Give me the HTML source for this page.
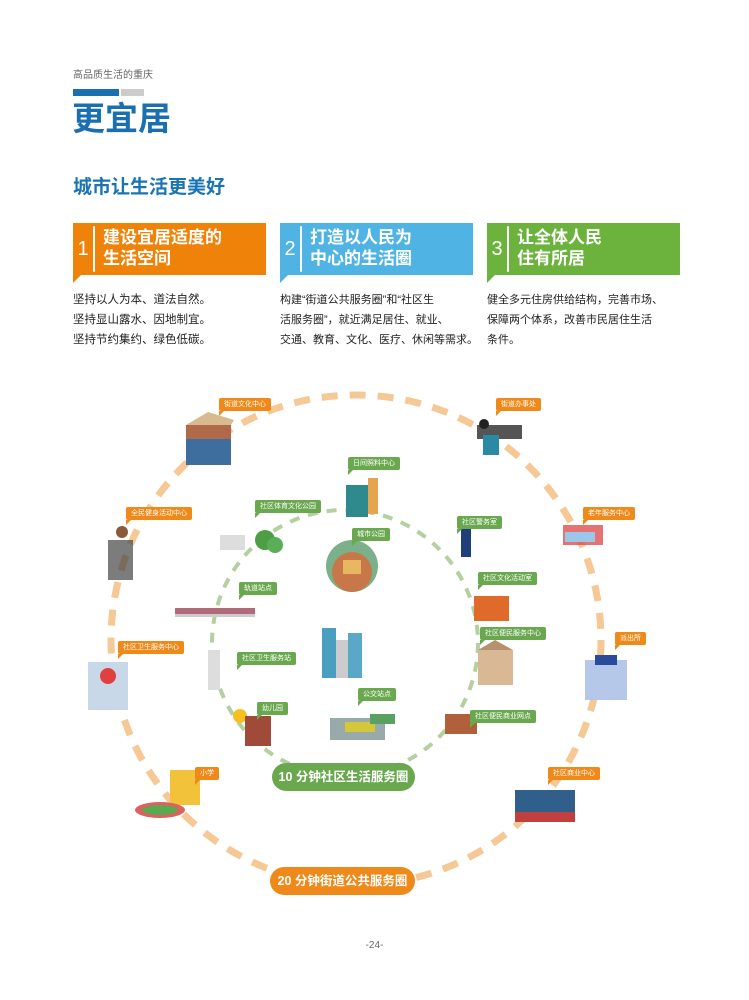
<!DOCTYPE html>
<html><head><meta charset="utf-8"><style>
body{margin:0;width:749px;height:1000px;background:#fff;position:relative;overflow:hidden;font-family:"Liberation Sans","Noto Sans CJK SC",sans-serif}
.a{position:absolute}
.card{position:absolute;top:223px;height:52px;color:#fff}
.card .n{position:absolute;left:0;top:0;width:20px;height:52px;font-size:20px;line-height:52px;text-align:center}
.card .d{position:absolute;left:20px;top:3px;width:2px;height:46px;background:#fff;border-radius:1px}
.card .t{position:absolute;left:30px;top:4px;font-size:17px;line-height:21px;font-weight:bold}
.card .tail{position:absolute;left:0;top:52px;width:0;height:0;border-top:8px solid;border-right:8px solid transparent}
.body{position:absolute;top:290px;font-size:11.5px;line-height:20px;color:#222;white-space:nowrap}
.lo,.lg{position:absolute;color:#fff;font-size:7px;line-height:13px;height:13px;padding:0 5px;border-radius:2px;white-space:nowrap}
.lo{background:#ef8a1a}.lg{background:#6aa84f}
.lo:after,.lg:after{content:"";position:absolute;left:0;top:13px;border-top:5px solid;border-right:5px solid transparent}
.lo:after{border-top-color:#ef8a1a}.lg:after{border-top-color:#6aa84f}
</style></head><body>
<div class="a" style="left:73px;top:66px;font-size:10px;color:#666">高品质生活的重庆</div>
<div class="a" style="left:73px;top:89px;width:46px;height:7px;background:#1a6fb0"></div>
<div class="a" style="left:121px;top:89px;width:23px;height:7px;background:#ccc"></div>
<div class="a" style="left:72px;top:100px;font-size:33px;font-weight:bold;color:#1a6fb0;line-height:38px">更宜居</div>
<div class="a" style="left:73px;top:176px;font-size:19px;font-weight:bold;color:#1a74b4;line-height:24px">城市让生活更美好</div>

<div class="card" style="left:73px;width:193px;background:#ef8208"><div class="n">1</div><div class="d"></div><div class="t">建设宜居适度的<br>生活空间</div><div class="tail" style="border-top-color:#ef8208"></div></div>
<div class="card" style="left:280px;width:193px;background:#4fb3e3"><div class="n">2</div><div class="d"></div><div class="t">打造以人民为<br>中心的生活圈</div><div class="tail" style="border-top-color:#4fb3e3"></div></div>
<div class="card" style="left:487px;width:193px;background:#6cb33e"><div class="n">3</div><div class="d"></div><div class="t">让全体人民<br>住有所居</div><div class="tail" style="border-top-color:#6cb33e"></div></div>

<div class="body" style="left:73px">坚持以人为本、道法自然。<br>坚持显山露水、因地制宜。<br>坚持节约集约、绿色低碳。</div>
<div class="body" style="left:280px;font-size:11px">构建“街道公共服务圈”和“社区生<br>活服务圈”，就近满足居住、就业、<br>交通、教育、文化、医疗、休闲等需求。</div>
<div class="body" style="left:487px;font-size:11px">健全多元住房供给结构，完善市场、<br>保障两个体系，改善市民居住生活<br>条件。</div>

<svg class="a" style="left:0;top:0" width="749" height="1000">
<circle cx="356" cy="640" r="245" fill="none" stroke="#f5c896" stroke-width="7" stroke-dasharray="16 12"/>
<circle cx="345" cy="643" r="133" fill="none" stroke="#b5cfa0" stroke-width="4" stroke-dasharray="10 9"/>
<g>
<rect x="186" y="425" width="45" height="40" fill="#3d6e9e"/><rect x="186" y="425" width="45" height="14" fill="#b06a4a"/><polygon points="186,425 208,412 234,420 231,425" fill="#d8b990"/>
<rect x="477" y="425" width="45" height="14" fill="#555"/><rect x="483" y="435" width="16" height="20" fill="#2b8aa3"/><circle cx="484" cy="424" r="5" fill="#222"/>
<rect x="346" y="485" width="22" height="32" fill="#2e8a8c"/><rect x="368" y="478" width="10" height="36" fill="#e6a44e"/>
<circle cx="265" cy="540" r="10" fill="#4e9e45"/><circle cx="275" cy="545" r="8" fill="#5aae55"/><rect x="220" y="535" width="25" height="15" fill="#ddd"/>
<circle cx="352" cy="566" r="26" fill="#7bb08a"/><circle cx="352" cy="572" r="20" fill="#c87848"/><rect x="343" y="560" width="18" height="14" fill="#e8b860"/>
<rect x="108" y="540" width="25" height="40" fill="#444" opacity=".7"/><circle cx="122" cy="532" r="6" fill="#8a5a3a"/>
<rect x="461" y="527" width="10" height="30" fill="#1f3f7a"/><circle cx="466" cy="522" r="5" fill="#c99"/>
<rect x="563" y="525" width="40" height="20" fill="#e05050" opacity=".8"/><rect x="565" y="532" width="30" height="10" fill="#9cc7e8"/>
<rect x="175" y="608" width="80" height="6" fill="#b06a7a"/><rect x="175" y="614" width="80" height="3" fill="#ccc"/>
<rect x="474" y="596" width="35" height="25" fill="#e06a2a"/>
<rect x="322" y="628" width="14" height="50" fill="#4a9ec0"/><rect x="336" y="640" width="12" height="38" fill="#ccc"/><rect x="348" y="633" width="14" height="45" fill="#5aa8c8"/>
<rect x="478" y="650" width="35" height="35" fill="#d9b896"/><polygon points="478,650 495,640 513,650" fill="#b8906e"/>
<rect x="585" y="660" width="42" height="40" fill="#b6c8ea"/><rect x="595" y="655" width="22" height="10" fill="#2a4a9a"/>
<rect x="88" y="662" width="40" height="48" fill="#c8d8e8"/><circle cx="108" cy="676" r="8" fill="#e04040"/>
<rect x="208" y="650" width="12" height="40" fill="#ddd"/>
<circle cx="240" cy="716" r="7" fill="#f5c020"/><rect x="245" y="716" width="26" height="30" fill="#a04a3a"/>
<rect x="330" y="718" width="55" height="22" fill="#9aa"/><rect x="345" y="722" width="30" height="10" fill="#d4c83a"/><rect x="370" y="714" width="25" height="10" fill="#5aa060"/>
<rect x="445" y="714" width="32" height="20" fill="#b0603a"/>
<rect x="170" y="770" width="30" height="35" fill="#f2c23a"/><ellipse cx="160" cy="810" rx="25" ry="8" fill="#e06060"/><ellipse cx="160" cy="810" rx="18" ry="5" fill="#5aa850"/>
<rect x="515" y="790" width="60" height="28" fill="#2f5f8a"/><rect x="515" y="812" width="60" height="10" fill="#c04040"/>
</g>
</svg>

<div class="lo" style="left:219px;top:398px">街道文化中心</div>
<div class="lo" style="left:496px;top:398px">街道办事处</div>
<div class="lg" style="left:348px;top:457px">日间照料中心</div>
<div class="lg" style="left:255px;top:500px">社区体育文化公园</div>
<div class="lo" style="left:126px;top:507px">全民健身活动中心</div>
<div class="lg" style="left:352px;top:528px">城市公园</div>
<div class="lg" style="left:457px;top:516px">社区警务室</div>
<div class="lo" style="left:583px;top:507px">老年服务中心</div>
<div class="lg" style="left:239px;top:582px">轨道站点</div>
<div class="lg" style="left:478px;top:572px">社区文化活动室</div>
<div class="lo" style="left:118px;top:641px">社区卫生服务中心</div>
<div class="lg" style="left:237px;top:652px">社区卫生服务站</div>
<div class="lg" style="left:480px;top:627px">社区便民服务中心</div>
<div class="lo" style="left:615px;top:632px">派出所</div>
<div class="lg" style="left:257px;top:702px">幼儿园</div>
<div class="lg" style="left:358px;top:688px">公交站点</div>
<div class="lg" style="left:470px;top:710px">社区便民商业网点</div>
<div class="lo" style="left:195px;top:767px">小学</div>
<div class="lo" style="left:548px;top:767px">社区商业中心</div>

<div class="a" style="left:272px;top:763px;width:143px;height:28px;border-radius:14px;background:#6aa84f;color:#fff;font-size:12.5px;font-weight:bold;line-height:28px;text-align:center">10 分钟社区生活服务圈</div>
<div class="a" style="left:270px;top:867px;width:145px;height:28px;border-radius:14px;background:#ef8a1a;color:#fff;font-size:12.5px;font-weight:bold;line-height:28px;text-align:center">20 分钟街道公共服务圈</div>
<div class="a" style="left:0;width:749px;top:940px;text-align:center;font-size:10px;color:#666">-24-</div>
</body></html>
